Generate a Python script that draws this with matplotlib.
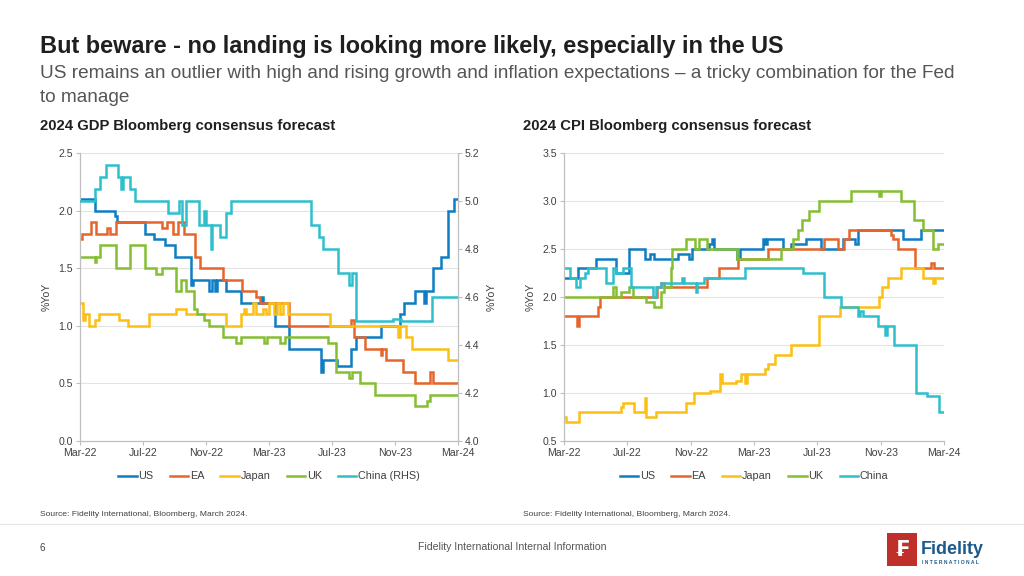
import matplotlib.pyplot as plt
from matplotlib.patches import Rectangle
from matplotlib.lines import Line2D

plt.rcParams['font.family'] = ['Liberation Sans', 'DejaVu Sans']

# x values are months since Mar-22; each pair is (month, value) where a step starts
month_ticks = [0, 4, 8, 12, 16, 20, 24]
month_labels = ["Mar-22", "Jul-22", "Nov-22", "Mar-23", "Jul-23", "Nov-23", "Mar-24"]

# ---------------- 2024 GDP forecasts ----------------
gdp_us = [(0, 2.1), (0.95, 2.0), (2.2, 1.95), (2.35, 1.9), (4.1, 1.8), (4.7, 1.75), (5.4, 1.7),
          (6.0, 1.6), (7.05, 1.35), (7.15, 1.4), (8.2, 1.3), (8.35, 1.4), (8.55, 1.3), (8.7, 1.4),
          (9.3, 1.3), (10.2, 1.2), (11.5, 1.25), (11.6, 1.2), (12.4, 1.0), (13.3, 0.8), (15.3, 0.6),
          (15.45, 0.7), (16.3, 0.65), (17.2, 0.8), (17.5, 0.9), (19.1, 1.0), (20.3, 1.1), (20.55, 1.2),
          (21.3, 1.3), (21.85, 1.2), (21.95, 1.3), (22.4, 1.5), (22.9, 1.6), (23.35, 2.0),
          (23.75, 2.1), (24, 2.1)]
gdp_ea = [(0, 1.75), (0.1, 1.8), (0.7, 1.9), (1.0, 1.8), (1.7, 1.85), (1.9, 1.8), (2.3, 1.9),
          (5.2, 1.85), (5.5, 1.9), (5.9, 1.8), (6.25, 1.9), (6.6, 1.8), (7.3, 1.6), (7.6, 1.5),
          (9.05, 1.4), (10.3, 1.3), (11.2, 1.25), (11.45, 1.2), (13.3, 1.0), (17.2, 1.05),
          (17.4, 0.9), (18.07, 0.8), (19.1, 0.75), (19.2, 0.8), (19.45, 0.7), (20.5, 0.6),
          (21.25, 0.5), (22.2, 0.6), (22.4, 0.5), (24, 0.5)]
gdp_japan = [(0, 1.2), (0.17, 1.05), (0.3, 1.1), (0.6, 1.0), (0.95, 1.05), (1.2, 1.1), (2.45, 1.05),
             (3.05, 1.0), (4.4, 1.1), (6.1, 1.15), (6.7, 1.1), (9.3, 1.0), (10.2, 1.1), (10.4, 1.15),
             (10.55, 1.1), (11.0, 1.2), (11.2, 1.1), (11.6, 1.15), (11.8, 1.1), (12.0, 1.2),
             (12.3, 1.1), (12.5, 1.2), (12.7, 1.1), (12.9, 1.2), (13.2, 1.1), (15.85, 1.0),
             (20.2, 0.9), (20.3, 1.0), (20.7, 0.9), (21.1, 0.8), (23.35, 0.7), (24, 0.7)]
gdp_uk = [(0, 1.6), (0.95, 1.55), (1.0, 1.6), (1.26, 1.7), (2.3, 1.5), (3.15, 1.7), (4.1, 1.5),
          (4.85, 1.45), (5.2, 1.5), (6.1, 1.3), (6.4, 1.4), (6.75, 1.3), (7.25, 1.15), (7.45, 1.1),
          (7.9, 1.05), (8.2, 1.0), (9.05, 0.9), (9.9, 0.85), (10.2, 0.9), (11.7, 0.85), (11.85, 0.9),
          (12.7, 0.85), (13.0, 0.9), (15.75, 0.85), (16.25, 0.6), (17.1, 0.55), (17.3, 0.6),
          (17.75, 0.5), (18.7, 0.4), (21.24, 0.3), (22.0, 0.35), (22.2, 0.4), (24, 0.4)]
gdp_china = [(0, 5.0), (0.95, 5.05), (1.26, 5.1), (1.68, 5.15), (2.42, 5.1), (2.63, 5.05),
             (2.74, 5.1), (3.16, 5.05), (3.47, 5.0), (5.58, 4.95), (6.3, 5.0), (6.5, 4.9),
             (6.74, 5.0), (7.58, 4.9), (7.9, 4.96), (8.0, 4.9), (8.3, 4.8), (8.4, 4.9), (8.9, 4.85),
             (9.26, 4.95), (9.58, 5.0), (14.68, 4.9), (15.2, 4.85), (15.42, 4.8), (16.38, 4.7),
             (17.1, 4.65), (17.3, 4.7), (17.54, 4.5), (19.86, 4.51), (20.4, 4.5), (22.35, 4.6),
             (24, 4.6)]

# ---------------- 2024 CPI forecasts ----------------
cpi_us = [(0, 2.2), (0.9, 2.3), (2.0, 2.4), (3.3, 2.25), (4.1, 2.5), (5.1, 2.4), (5.4, 2.45),
          (5.7, 2.4), (7.2, 2.45), (7.9, 2.4), (8.1, 2.5), (9.15, 2.55), (9.36, 2.6), (9.5, 2.5),
          (10.9, 2.4), (11.1, 2.5), (12.55, 2.6), (12.7, 2.55), (12.8, 2.6), (13.8, 2.5),
          (14.35, 2.55), (15.3, 2.6), (16.2, 2.5), (17.6, 2.6), (18.4, 2.55), (18.55, 2.7),
          (21.4, 2.6), (22.55, 2.7), (24, 2.7)]
cpi_ea = [(0, 1.8), (0.85, 1.7), (0.95, 1.8), (2.15, 1.9), (2.3, 2.0), (5.9, 2.1), (6.1, 2.15),
          (6.3, 2.1), (9.05, 2.2), (9.8, 2.3), (11.0, 2.4), (12.88, 2.5), (16.45, 2.6), (17.3, 2.5),
          (17.7, 2.6), (18.03, 2.7), (20.66, 2.65), (20.8, 2.6), (21.08, 2.5), (22.15, 2.3),
          (23.18, 2.35), (23.35, 2.3), (24, 2.3)]
cpi_japan = [(0, 0.75), (0.1, 0.7), (0.95, 0.8), (3.6, 0.85), (3.7, 0.9), (4.4, 0.8), (5.1, 0.95),
             (5.18, 0.75), (5.8, 0.8), (7.7, 0.9), (8.2, 1.0), (9.25, 1.02), (9.85, 1.2), (10.0, 1.1),
             (10.85, 1.12), (11.2, 1.2), (11.4, 1.1), (11.55, 1.2), (12.67, 1.25), (12.9, 1.3),
             (13.3, 1.4), (14.35, 1.5), (16.1, 1.8), (17.4, 1.9), (19.9, 2.0), (20.1, 2.1),
             (20.45, 2.2), (21.3, 2.3), (22.65, 2.2), (23.3, 2.15), (23.4, 2.2), (24, 2.2)]
cpi_uk = [(0, 2.0), (3.1, 2.1), (3.3, 2.0), (3.6, 2.05), (4.13, 2.1), (4.34, 2.0), (5.18, 1.95),
          (5.7, 1.9), (6.1, 2.05), (6.3, 2.1), (6.74, 2.3), (6.85, 2.5), (7.7, 2.6), (8.3, 2.5),
          (8.5, 2.6), (9.05, 2.5), (10.9, 2.4), (13.7, 2.5), (14.45, 2.6), (14.77, 2.7),
          (15.0, 2.8), (15.5, 2.9), (16.1, 3.0), (18.1, 3.1), (19.9, 3.05), (20.05, 3.1),
          (21.3, 3.0), (22.1, 2.8), (22.65, 2.7), (23.3, 2.5), (23.6, 2.55), (24, 2.55)]
cpi_china = [(0, 2.3), (0.36, 2.2), (0.77, 2.1), (0.98, 2.2), (1.3, 2.25), (1.51, 2.3), (2.66, 2.15),
             (3.08, 2.3), (3.3, 2.25), (3.7, 2.3), (4.23, 2.1), (5.59, 2.0), (5.8, 2.1), (6.1, 2.15),
             (7.48, 2.2), (7.58, 2.15), (8.31, 2.05), (8.42, 2.15), (8.84, 2.2), (11.46, 2.3),
             (15.1, 2.25), (16.45, 2.0), (17.5, 1.9), (18.55, 1.8), (18.7, 1.85), (18.9, 1.8),
             (19.85, 1.7), (20.3, 1.6), (20.4, 1.7), (20.87, 1.5), (22.2, 1.0), (22.9, 0.97),
             (23.7, 0.8), (24, 0.8)]

colors = {"US": "#0f7dc2", "EA": "#e5652c", "Japan": "#fcbf14", "UK": "#84bf32", "China": "#2ebfcb"}
grey = "#404040"
spine_grey = "#bfbfbf"
tick_fs = 7.6


def draw(ax, pairs, name, label=None):
    xs = [p[0] for p in pairs]
    ys = [p[1] for p in pairs]
    line, = ax.step(xs, ys, where="post", color=colors[name], lw=1.8,
                    label=label or name, solid_joinstyle="miter")
    return line


def style(ax, ylim, yticks):
    ax.set_xlim(0, 24)
    ax.set_ylim(*ylim)
    ax.set_yticks(yticks)
    ax.set_yticklabels([f"{t:.1f}" for t in yticks])
    ax.set_xticks(month_ticks)
    ax.set_xticklabels(month_labels)
    ax.grid(axis="y", color="#e3e3e3", lw=0.8)
    ax.set_axisbelow(True)
    ax.tick_params(labelsize=tick_fs, colors=grey, length=3, width=0.8, color=spine_grey, pad=2)
    for s in ["top", "right"]:
        ax.spines[s].set_visible(False)
    for s in ["left", "bottom"]:
        ax.spines[s].set_color(spine_grey)
        ax.spines[s].set_linewidth(0.9)
    ax.set_ylabel("%YoY", fontsize=tick_fs, color=grey, labelpad=5)


def legend(ax, handles):
    ax.legend(handles=handles, loc="center", bbox_to_anchor=(0.5, -34 / 288 - 0.005), ncol=5,
              frameon=False, fontsize=7.8, handlelength=1.7, handletextpad=0.15,
              columnspacing=1.5, labelcolor=grey)


fig = plt.figure(figsize=(10.24, 5.76), dpi=100)

# ---------------- GDP chart ----------------
ax1 = fig.add_axes([80 / 1024, 1 - 441 / 576, 378 / 1024, 288 / 576])
style(ax1, (0, 2.5), [0.0, 0.5, 1.0, 1.5, 2.0, 2.5])
h1 = [draw(ax1, gdp_us, "US"), draw(ax1, gdp_ea, "EA"), draw(ax1, gdp_japan, "Japan"),
      draw(ax1, gdp_uk, "UK")]
ax1r = ax1.twinx()
h1.append(draw(ax1r, gdp_china, "China", "China (RHS)"))
ax1r.set_ylim(4.0, 5.2)
r_ticks = [4.0, 4.2, 4.4, 4.6, 4.8, 5.0, 5.2]
ax1r.set_yticks(r_ticks)
ax1r.set_yticklabels([f"{t:.1f}" for t in r_ticks])
ax1r.tick_params(labelsize=tick_fs, colors=grey, length=3, width=0.8, color=spine_grey, pad=2)
for s in ["top", "left", "bottom"]:
    ax1r.spines[s].set_visible(False)
ax1r.spines["right"].set_color(spine_grey)
ax1r.spines["right"].set_linewidth(0.9)
ax1r.set_ylabel("%YoY", fontsize=tick_fs, color=grey, labelpad=5)
legend(ax1, h1)

# ---------------- CPI chart ----------------
ax2 = fig.add_axes([564 / 1024, 1 - 441 / 576, 380 / 1024, 288 / 576])
style(ax2, (0.5, 3.5), [0.5, 1.0, 1.5, 2.0, 2.5, 3.0, 3.5])
h2 = [draw(ax2, cpi_us, "US"), draw(ax2, cpi_ea, "EA"), draw(ax2, cpi_japan, "Japan"),
      draw(ax2, cpi_uk, "UK"), draw(ax2, cpi_china, "China")]
legend(ax2, h2)


# ---------------- Text ----------------
def fy(px):
    return 1 - px / 576


fig.text(40 / 1024, fy(47), "But beware - no landing is looking more likely, especially in the US",
         fontsize=16.9, fontweight="bold", color="#1f1f1f", va="center")
fig.text(40 / 1024, fy(74), "US remains an outlier with high and rising growth and inflation "
         "expectations \u2013 a tricky combination for the Fed", fontsize=13.7, color="#555555",
         va="center")
fig.text(40 / 1024, fy(97), "to manage", fontsize=13.7, color="#555555", va="center")
fig.text(40 / 1024, fy(126), "2024 GDP Bloomberg consensus forecast", fontsize=10.7,
         fontweight="bold", color="#1f1f1f", va="center")
fig.text(523 / 1024, fy(126), "2024 CPI Bloomberg consensus forecast", fontsize=10.7,
         fontweight="bold", color="#1f1f1f", va="center")
fig.text(40 / 1024, fy(515), "Source: Fidelity International, Bloomberg, March 2024.",
         fontsize=6.1, color=grey, va="center")
fig.text(523 / 1024, fy(515), "Source: Fidelity International, Bloomberg, March 2024.",
         fontsize=6.1, color=grey, va="center")

fig.add_artist(Line2D([0, 1], [fy(524), fy(524)], transform=fig.transFigure,
                      color="#e6e6e6", lw=0.8))
fig.text(40 / 1024, fy(548), "6", fontsize=7, color=grey, va="center")
fig.text(512 / 1024, fy(547), "Fidelity International Internal Information", fontsize=7.6,
         color="#555555", va="center", ha="center")

# logo
fig.add_artist(Rectangle((887 / 1024, fy(566)), 30 / 1024, 33 / 576, transform=fig.transFigure,
                         facecolor="#c0302a", edgecolor="none"))
fig.text(902 / 1024, fy(550), "\u20a3", fontsize=15, fontweight="bold", color="white",
         ha="center", va="center", family=["DejaVu Sans"])
fig.text(921 / 1024, fy(549), "Fidelity", fontsize=13, fontweight="bold", color="#1a5a8c",
         va="center")
fig.text(922 / 1024, fy(563), "I N T E R N A T I O N A L", fontsize=3.6, fontweight="bold",
         color="#1a5a8c", va="center")

fig.savefig("out.png", dpi=100)
